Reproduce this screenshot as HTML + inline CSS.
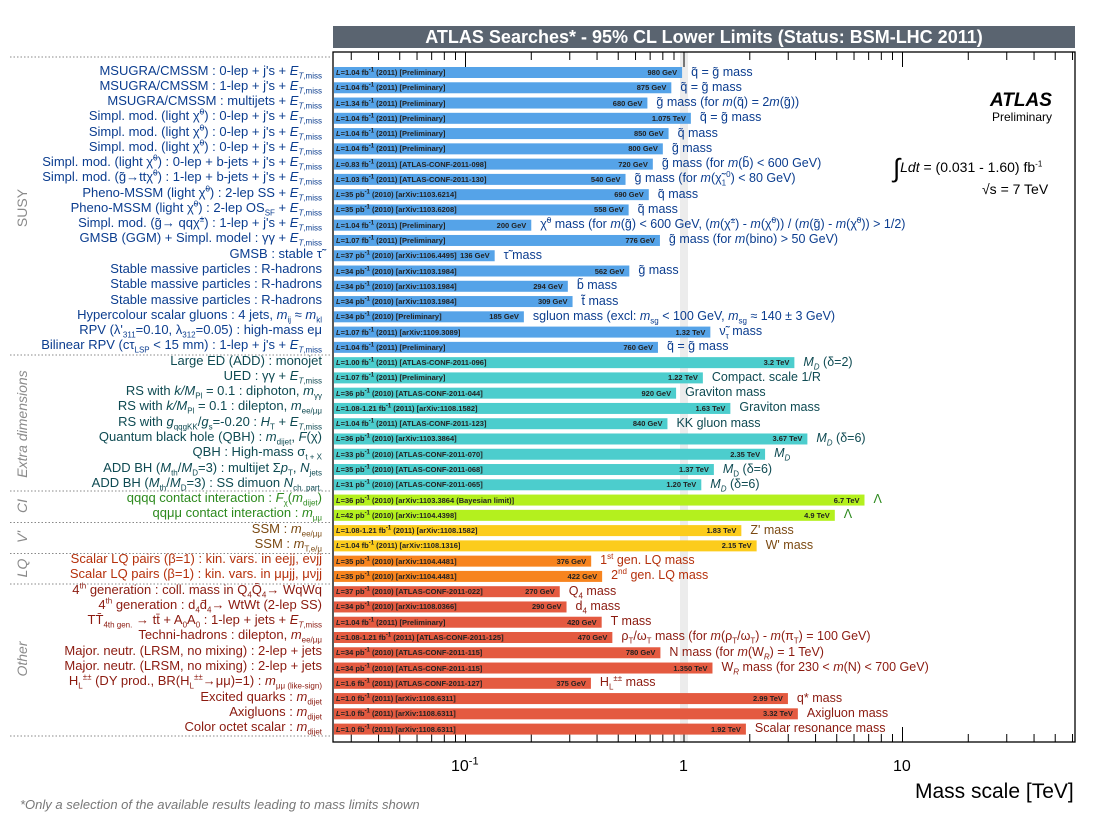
<!DOCTYPE html>
<html><head><meta charset="utf-8">
<style>
body{margin:0;background:#fff;width:1096px;height:827px;position:relative;overflow:hidden;font-family:"Liberation Sans",sans-serif}
.abs{position:absolute;white-space:nowrap}
.ll{position:absolute;right:774px;font-size:13px;line-height:14px;white-space:nowrap;text-align:right}
.rl{position:absolute;font-size:12.5px;line-height:14px;white-space:nowrap}
sub,sup{font-size:8px;line-height:0}
.inn{position:absolute;font-size:7.5px;font-weight:bold;color:#222;line-height:11px;white-space:nowrap}
.inn sup{font-size:6px}
.sec{position:absolute;color:#8a8a8a;font-size:14px;transform:rotate(-90deg);transform-origin:center;white-space:nowrap;width:120px;text-align:center}
</style></head><body>
<div class="abs" style="left:333px;top:26px;width:742px;height:22px;background:#5a6470;color:#fff;font-weight:bold;font-size:18px;line-height:22px;text-align:center">ATLAS Searches* - 95% CL Lower Limits (Status: BSM-LHC 2011)</div>
<svg id="ax" width="1096" height="827" style="position:absolute;left:0;top:0"></svg>
<div id="lay"></div>
<div class="abs" style="left:990px;top:90px;font-size:19px;font-weight:bold;font-style:italic">ATLAS</div>
<div class="abs" style="left:992px;top:110px;font-size:12px">Preliminary</div>
<div class="abs" style="left:893px;top:148px;font-size:14px"><span style="font-size:26px;position:relative;top:5px">∫</span><i>Ldt</i> = (0.031 - 1.60) fb<sup>-1</sup></div>
<div class="abs" style="left:982px;top:181px;font-size:14px">√s = 7 TeV</div>
<div class="abs" style="left:451px;top:758px;font-size:16px">10<sup style="font-size:11px">-1</sup></div>
<div class="abs" style="left:679px;top:758px;font-size:16px">1</div>
<div class="abs" style="left:893px;top:758px;font-size:16px">10</div>
<div class="abs" style="left:915px;top:780px;font-size:21px">Mass scale [TeV]</div>
<div class="abs" style="left:20px;top:797px;font-size:13px;font-style:italic;color:#777">*Only a selection of the available results leading to mass limits shown</div>
<div class="sec" style="left:-38px;top:200px">SUSY</div>
<div class="sec" style="left:-38px;top:416px;font-style:italic">Extra dimensions</div>
<div class="sec" style="left:-38px;top:498px;font-style:italic">CI</div>
<div class="sec" style="left:-38px;top:529px;font-style:italic">V'</div>
<div class="sec" style="left:-38px;top:560px;font-style:italic">LQ</div>
<div class="sec" style="left:-38px;top:651px;font-style:italic">Other</div>
<script>
const T="&#771;";
const q="q"+T, g="g"+T, chi="χ"+T;
const values=[0.98,0.875,0.68,1.075,0.85,0.80,0.72,0.54,0.69,0.558,0.2,0.776,0.136,0.562,0.294,0.309,0.185,1.32,0.76,
3.2,1.22,0.92,1.63,0.84,3.67,2.35,1.37,1.20,
6.7,4.9,1.83,2.15,0.376,0.422,
0.27,0.29,0.42,0.47,0.78,1.35,0.375,2.99,3.32,1.92];
const valueLabels=["980 GeV","875 GeV","680 GeV","1.075 TeV","850 GeV","800 GeV","720 GeV","540 GeV","690 GeV","558 GeV","200 GeV","776 GeV","136 GeV","562 GeV","294 GeV","309 GeV","185 GeV","1.32 TeV","760 GeV",
"3.2 TeV","1.22 TeV","920 GeV","1.63 TeV","840 GeV","3.67 TeV","2.35 TeV","1.37 TeV","1.20 TeV",
"6.7 TeV","4.9 TeV","1.83 TeV","2.15 TeV","376 GeV","422 GeV",
"270 GeV","290 GeV","420 GeV","470 GeV","780 GeV","1.350 TeV","375 GeV","2.99 TeV","3.32 TeV","1.92 TeV"];
const groups=[0,0,0,0,0,0,0,0,0,0,0,0,0,0,0,0,0,0,0,1,1,1,1,1,1,1,1,1,2,2,3,3,4,4,5,5,5,5,5,5,5,5,5,5];
const barColors=["#55a3e8","#4ccdcd","#b4f01e","#fccc1c","#f7841e","#e45a40"];
const textColors=["#0b3d8f","#0e4a52","#2d8a1e","#7b4a12","#b5300b","#8b1a0f"];
const lumi=["L=1.04 fb<sup>-1</sup> (2011) [Preliminary]","L=1.04 fb<sup>-1</sup> (2011) [Preliminary]","L=1.34 fb<sup>-1</sup> (2011) [Preliminary]","L=1.04 fb<sup>-1</sup> (2011) [Preliminary]","L=1.04 fb<sup>-1</sup> (2011) [Preliminary]","L=1.04 fb<sup>-1</sup> (2011) [Preliminary]","L=0.83 fb<sup>-1</sup> (2011) [ATLAS-CONF-2011-098]","L=1.03 fb<sup>-1</sup> (2011) [ATLAS-CONF-2011-130]","L=35 pb<sup>-1</sup> (2010) [arXiv:1103.6214]","L=35 pb<sup>-1</sup> (2010) [arXiv:1103.6208]","L=1.04 fb<sup>-1</sup> (2011) [Preliminary]","L=1.07 fb<sup>-1</sup> (2011) [Preliminary]","L=37 pb<sup>-1</sup> (2010) [arXiv:1106.4495]","L=34 pb<sup>-1</sup> (2010) [arXiv:1103.1984]","L=34 pb<sup>-1</sup> (2010) [arXiv:1103.1984]","L=34 pb<sup>-1</sup> (2010) [arXiv:1103.1984]","L=34 pb<sup>-1</sup> (2010) [Preliminary]","L=1.07 fb<sup>-1</sup> (2011) [arXiv:1109.3089]","L=1.04 fb<sup>-1</sup> (2011) [Preliminary]",
"L=1.00 fb<sup>-1</sup> (2011) [ATLAS-CONF-2011-096]","L=1.07 fb<sup>-1</sup> (2011) [Preliminary]","L=36 pb<sup>-1</sup> (2010) [ATLAS-CONF-2011-044]","L=1.08-1.21 fb<sup>-1</sup> (2011) [arXiv:1108.1582]","L=1.04 fb<sup>-1</sup> (2011) [ATLAS-CONF-2011-123]","L=36 pb<sup>-1</sup> (2010) [arXiv:1103.3864]","L=33 pb<sup>-1</sup> (2010) [ATLAS-CONF-2011-070]","L=35 pb<sup>-1</sup> (2010) [ATLAS-CONF-2011-068]","L=31 pb<sup>-1</sup> (2010) [ATLAS-CONF-2011-065]",
"L=36 pb<sup>-1</sup> (2010) [arXiv:1103.3864 (Bayesian limit)]","L=42 pb<sup>-1</sup> (2010) [arXiv:1104.4398]","L=1.08-1.21 fb<sup>-1</sup> (2011) [arXiv:1108.1582]","L=1.04 fb<sup>-1</sup> (2011) [arXiv:1108.1316]","L=35 pb<sup>-1</sup> (2010) [arXiv:1104.4481]","L=35 pb<sup>-1</sup> (2010) [arXiv:1104.4481]",
"L=37 pb<sup>-1</sup> (2010) [ATLAS-CONF-2011-022]","L=34 pb<sup>-1</sup> (2010) [arXiv:1108.0366]","L=1.04 fb<sup>-1</sup> (2011) [Preliminary]","L=1.08-1.21 fb<sup>-1</sup> (2011) [ATLAS-CONF-2011-125]","L=34 pb<sup>-1</sup> (2010) [ATLAS-CONF-2011-115]","L=34 pb<sup>-1</sup> (2010) [ATLAS-CONF-2011-115]","L=1.6 fb<sup>-1</sup> (2011) [ATLAS-CONF-2011-127]","L=1.0 fb<sup>-1</sup> (2011) [arXiv:1108.6311]","L=1.0 fb<sup>-1</sup> (2011) [arXiv:1108.6311]","L=1.0 fb<sup>-1</sup> (2011) [arXiv:1108.6311]"];
const ET="<i>E</i><sub><i>T</i>,miss</sub>";
const leftLabels=["MSUGRA/CMSSM : 0-lep + j's + "+ET,"MSUGRA/CMSSM : 1-lep + j's + "+ET,"MSUGRA/CMSSM : multijets + "+ET,"Simpl. mod. (light "+chi+"<sup>0</sup>) : 0-lep + j's + "+ET,"Simpl. mod. (light "+chi+"<sup>0</sup>) : 0-lep + j's + "+ET,"Simpl. mod. (light "+chi+"<sup>0</sup>) : 0-lep + j's + "+ET,"Simpl. mod. (light "+chi+"<sup>0</sup>) : 0-lep + b-jets + j's + "+ET,"Simpl. mod. ("+g+"→tt"+chi+"<sup>0</sup>) : 1-lep + b-jets + j's + "+ET,"Pheno-MSSM (light "+chi+"<sup>0</sup>) : 2-lep SS + "+ET,"Pheno-MSSM (light "+chi+"<sup>0</sup>) : 2-lep OS<sub>SF</sub> + "+ET,"Simpl. mod. ("+g+"→ qq"+chi+"<sup>±</sup>) : 1-lep + j's + "+ET,"GMSB (GGM) + Simpl. model : γγ + "+ET,"GMSB : stable τ"+T,"Stable massive particles : R-hadrons","Stable massive particles : R-hadrons","Stable massive particles : R-hadrons","Hypercolour scalar gluons : 4 jets, <i>m</i><sub>ij</sub> ≈ <i>m</i><sub>kl</sub>","RPV (λ'<sub>311</sub>=0.10, λ<sub>312</sub>=0.05) : high-mass eμ","Bilinear RPV (cτ<sub>LSP</sub> &lt; 15 mm) : 1-lep + j's + "+ET,
"Large ED (ADD) : monojet","UED : γγ + "+ET,"RS with <i>k/M</i><sub>Pl</sub> = 0.1 : diphoton, <i>m</i><sub>γγ</sub>","RS with <i>k/M</i><sub>Pl</sub> = 0.1 : dilepton, <i>m</i><sub>ee/μμ</sub>","RS with <i>g</i><sub>qqgKK</sub>/<i>g</i><sub>s</sub>=-0.20 : <i>H</i><sub>T</sub> + "+ET,"Quantum black hole (QBH) : <i>m</i><sub>dijet</sub>, <i>F</i>(χ)","QBH : High-mass σ<sub>t + X</sub>","ADD BH (<i>M</i><sub>th</sub>/<i>M</i><sub>D</sub>=3) : multijet Σ<i>p</i><sub>T</sub>, <i>N</i><sub>jets</sub>","ADD BH (<i>M</i><sub>th</sub>/<i>M</i><sub>D</sub>=3) : SS dimuon <i>N</i><sub>ch. part.</sub>",
"qqqq contact interaction : <i>F</i><sub>χ</sub>(<i>m</i><sub>dijet</sub>)","qqμμ contact interaction : <i>m</i><sub>μμ</sub>","SSM : <i>m</i><sub>ee/μμ</sub>","SSM : <i>m</i><sub>T,e/μ</sub>","Scalar LQ pairs (β=1) : kin. vars. in eejj, eνjj","Scalar LQ pairs (β=1) : kin. vars. in μμjj, μνjj",
"4<sup>th</sup> generation : coll. mass in Q<sub>4</sub>Q̄<sub>4</sub>→ WqWq","4<sup>th</sup> generation : d<sub>4</sub>d̄<sub>4</sub>→ WtWt (2-lep SS)","TT̄<sub>4th gen.</sub> → tt̄ + A<sub>0</sub>A<sub>0</sub> : 1-lep + jets + "+ET,"Techni-hadrons : dilepton, <i>m</i><sub>ee/μμ</sub>","Major. neutr. (LRSM, no mixing) : 2-lep + jets","Major. neutr. (LRSM, no mixing) : 2-lep + jets","H<sub>L</sub><sup>±±</sup> (DY prod., BR(H<sub>L</sub><sup>±±</sup>→μμ)=1) : <i>m</i><sub>μμ (like-sign)</sub>","Excited quarks : <i>m</i><sub>dijet</sub>","Axigluons : <i>m</i><sub>dijet</sub>","Color octet scalar : <i>m</i><sub>dijet</sub>"];
const rightLabels=[q+" = "+g+" mass",q+" = "+g+" mass",g+" mass  (for <i>m</i>("+q+") = 2<i>m</i>("+g+"))",q+" = "+g+" mass",q+" mass",g+" mass",g+" mass (for <i>m</i>(b"+T+") &lt; 600 GeV)",g+" mass (for <i>m</i>("+chi+"<sub>1</sub><sup>0</sup>) &lt; 80 GeV)",q+" mass",q+" mass",chi+"<sup>0</sup> mass (for <i>m</i>("+g+") &lt; 600 GeV, (<i>m</i>("+chi+"<sup>±</sup>) - <i>m</i>("+chi+"<sup>0</sup>)) / (<i>m</i>("+g+") - <i>m</i>("+chi+"<sup>0</sup>)) &gt; 1/2)",g+" mass (for <i>m</i>(bino) &gt; 50 GeV)","τ"+T+" mass",g+" mass","b"+T+" mass","t"+T+" mass","sgluon mass (excl: <i>m</i><sub>sg</sub> &lt; 100 GeV,  <i>m</i><sub>sg</sub> ≈ 140 ± 3 GeV)","ν"+T+"<sub>τ</sub> mass",q+" = "+g+" mass",
"<i>M<sub>D</sub></i> (δ=2)","Compact. scale 1/R","Graviton mass","Graviton mass","KK gluon mass","<i>M<sub>D</sub></i> (δ=6)","<i>M<sub>D</sub></i>","<i>M</i><sub>D</sub> (δ=6)","<i>M<sub>D</sub></i> (δ=6)",
"Λ","Λ","Z' mass","W' mass","1<sup>st</sup> gen. LQ mass","2<sup>nd</sup> gen. LQ mass",
"Q<sub>4</sub> mass","d<sub>4</sub> mass","T mass","ρ<sub>T</sub>/ω<sub>T</sub> mass (for <i>m</i>(ρ<sub>T</sub>/ω<sub>T</sub>) - <i>m</i>(π<sub>T</sub>) = 100 GeV)","N mass (for <i>m</i>(W<sub><i>R</i></sub>) = 1 TeV)","W<sub><i>R</i></sub> mass (for 230 &lt; <i>m</i>(N) &lt; 700 GeV)","H<sub>L</sub><sup>±±</sup> mass","q* mass","Axigluon mass","Scalar resonance mass"];
const tickMajor=[0.1,1,10];
const tickMinor=[0.03,0.04,0.05,0.06,0.07,0.08,0.09,0.2,0.3,0.4,0.5,0.6,0.7,0.8,0.9,2,3,4,5,6,7,8,9,20,30,40,50,60];
const X0=333,X1=1075,Y0=52,Y1=742;
function xs(v){return 684+218.5*Math.log10(v);}
function ys(i){return 72.5+15.27*i;}
const NS="http://www.w3.org/2000/svg";
const svg=document.getElementById('ax');
function mk(tag,attrs){const e=document.createElementNS(NS,tag);for(const k in attrs)e.setAttribute(k,attrs[k]);svg.appendChild(e);return e;}
let band=mk('rect',{x:680,y:Y0,width:8,height:Y1-Y0,fill:'#ececec'});


let frame=mk('rect',{x:X0,y:Y0,width:X1-X0,height:Y1-Y0,fill:'none',stroke:'#000','stroke-width':1.3});


tickMajor.concat(tickMinor).forEach(v=>{const x=xs(v);if(x<X0||x>X1)return;const L=tickMajor.includes(v)?15:8;
 let t1=mk('line',{x1:x,x2:x,y1:Y1,y2:Y1-L,stroke:'#000','stroke-width':1});
 
 
 let t2=mk('line',{x1:x,x2:x,y1:Y0,y2:Y0+L,stroke:'#000','stroke-width':1});
 
 });
[57,355,491,522.5,553.5,584,736].forEach(y=>{let s=mk('line',{x1:10,x2:330,y1:y,y2:y,stroke:'#888','stroke-width':1,'stroke-dasharray':'1.5,2'});
 
 });
const lay=document.getElementById('lay');
values.forEach((v,i)=>{
 const y=ys(i),x=xs(v),gi=groups[i];
 let r=mk('rect',{x:X0+1,y:y-5.5,width:x-X0-1,height:11,fill:barColors[gi]});
 
 
 const a=document.createElement('div');a.className='inn';a.style.left=(X0+3)+'px';a.style.top=(y-5.5)+'px';
 a.innerHTML='<i>'+lumi[i].slice(0,1)+'</i>'+lumi[i].slice(1);
 
 
 lay.appendChild(a);
 const b=document.createElement('div');b.className='inn';b.style.right=(1096-x+5)+'px';b.style.top=(y-5.5)+'px';
 b.textContent=valueLabels[i];
 
 
 lay.appendChild(b);
 const c=document.createElement('div');c.className='rl';c.style.left=(x+9)+'px';c.style.top=(y-8)+'px';c.style.color=textColors[gi];
 c.innerHTML=rightLabels[i];
 
 
 lay.appendChild(c);
 const d=document.createElement('div');d.className='ll';d.style.top=(y-9)+'px';d.style.color=textColors[gi];
 d.innerHTML=leftLabels[i];
 
 
 lay.appendChild(d);
});
</script>
</body></html>
